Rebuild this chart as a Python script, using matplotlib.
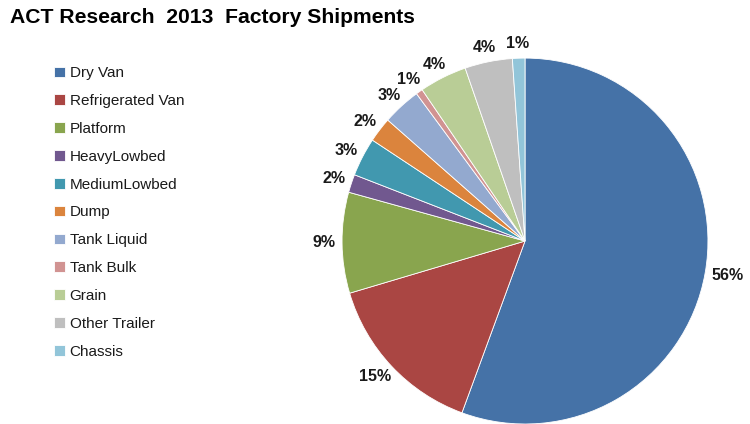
import matplotlib
matplotlib.use("Agg")
import matplotlib.pyplot as plt
import numpy as np

plt.rcParams['font.family'] = ['Liberation Sans', 'DejaVu Sans']

# 2013 factory shipments by trailer type (share, %)
categories = ['Dry Van', 'Refrigerated Van', 'Platform', 'HeavyLowbed', 'MediumLowbed',
              'Dump', 'Tank Liquid', 'Tank Bulk', 'Grain', 'Other Trailer', 'Chassis']
shares = [55.6, 14.8, 8.9, 1.6, 3.4, 2.2, 3.4, 0.6, 4.2, 4.2, 1.1]
colors = ['#4572A7', '#AA4643', '#89A54E', '#71588F', '#4198AF', '#DB843D',
          '#93A9CF', '#D19392', '#B9CD96', '#BFBFBF', '#92C5D9']

fig = plt.figure(figsize=(7.5, 4.24), dpi=100)
ax = fig.add_axes([0.456, 0.0, 0.488, 0.863])

wedges, _ = ax.pie(shares, colors=colors, startangle=90, counterclock=False,
                   radius=1.0, wedgeprops=dict(edgecolor='white', linewidth=0.6))
ax.set_xlim(-1, 1)
ax.set_ylim(-1, 1)
ax.set_aspect('equal')
ax.axis('off')

# percentage labels just outside the rim
total = sum(shares)
labels = []
for w, v in zip(wedges, shares):
    ang = np.deg2rad((w.theta1 + w.theta2) / 2)
    t = ax.text(np.cos(ang), np.sin(ang), '%.0f%%' % (v / total * 100),
                ha='center', va='center', fontsize=11.5, fontweight='bold',
                color='#1a1a1a', clip_on=False)
    labels.append((t, ang))

fig.canvas.draw()
r = fig.canvas.get_renderer()
gap = 7  # px
for t, ang in labels:
    bb = t.get_window_extent(r)
    c, s = np.cos(ang), np.sin(ang)
    dx = c * (gap + bb.width / 2)
    dy = s * (gap + bb.height / 2)
    x0, y0 = ax.transData.transform((c, s))
    t.set_position(ax.transData.inverted().transform((x0 + dx, y0 + dy)))

fig.legend(wedges, categories, loc='upper left', bbox_to_anchor=(0.054, 0.876),
           frameon=False, fontsize=11, handlelength=0.7, handleheight=0.7,
           handletextpad=0.3, labelspacing=0.905, labelcolor='#1a1a1a')

fig.text(0.013, 0.958, 'ACT Research  2013  Factory Shipments', fontsize=15.2,
         fontweight='bold', ha='left', va='center', color='black')

fig.savefig('out.png', dpi=100)
